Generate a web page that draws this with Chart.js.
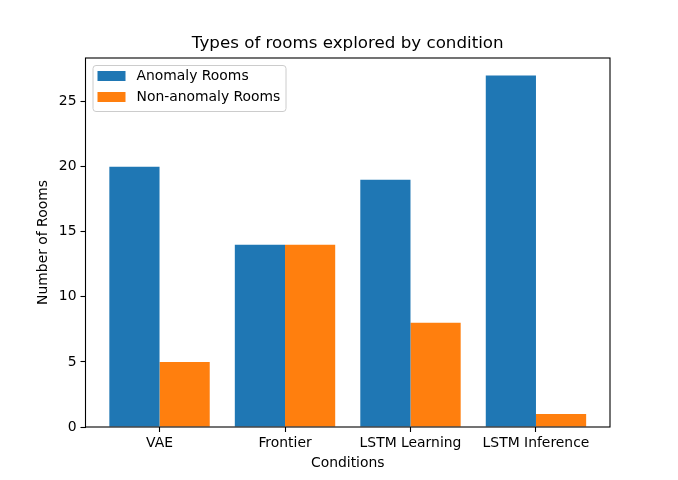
<!DOCTYPE html>
<html lang="en">
<head>
<meta charset="UTF-8">
<title>Types of rooms explored by condition</title>
<script src="https://cdn.jsdelivr.net/npm/chart.js"></script>
<style>
  html, body { margin: 0; padding: 0; background: #fff; }
  #wrap { width: 678px; height: 480px; }
</style>
</head>
<body>
<div id="wrap"><canvas id="roomsChart"></canvas></div>
<script>
    // Data
    const conditions = ["VAE", "Frontier", "LSTM Learning", "LSTM Inference"];
    const anomalyRooms = [20, 14, 19, 27];
    const nonAnomalyRooms = [5, 14, 8, 1];
    const yTicks = [0, 5, 10, 15, 20, 25];

    const FONT = "'DejaVu Sans', sans-serif";

    // matplotlib-like frame, title and legend
    const framePlugin = {
        id: "frame",
        afterDraw(chart) {
            const ctx = chart.ctx;
            const a = chart.chartArea;
            ctx.save();
            ctx.strokeStyle = "#000";
            ctx.lineWidth = 1.1;
            ctx.strokeRect(a.left, a.top, a.right - a.left, a.bottom - a.top);

            // title
            ctx.fillStyle = "#000";
            ctx.font = "16.7px " + FONT;
            ctx.textAlign = "center";
            ctx.textBaseline = "middle";
            ctx.fillText("Types of rooms explored by condition", (a.left + a.right) / 2, 43.5);

            // legend box
            const lx = a.left + 7, ly = a.top + 7, lw = 193, lh = 46;
            ctx.beginPath();
            ctx.roundRect(lx + 0.5, ly + 0.5, lw, lh, 3);
            ctx.fillStyle = "rgba(255,255,255,0.8)";
            ctx.fill();
            ctx.strokeStyle = "#cccccc";
            ctx.lineWidth = 1;
            ctx.stroke();

            ctx.font = "13.9px " + FONT;
            ctx.textAlign = "left";
            chart.data.datasets.forEach((ds, i) => {
                const ry = ly + 6 + i * 21;
                ctx.fillStyle = ds.backgroundColor;
                ctx.fillRect(lx + 5, ry, 28, 10);
                ctx.fillStyle = "#000";
                ctx.fillText(ds.label, lx + 44, ry + 5.5);
            });
            ctx.restore();
        }
    };

    new Chart(document.getElementById("roomsChart"), {
        type: "bar",
        data: {
            datasets: [
                {
                    label: "Anomaly Rooms",
                    data: anomalyRooms.map((v, i) => ({ x: i, y: v })),
                    backgroundColor: "#1f77b4",
                    borderWidth: 0,
                    inflateAmount: 0
                },
                {
                    label: "Non-anomaly Rooms",
                    data: nonAnomalyRooms.map((v, i) => ({ x: i, y: v })),
                    backgroundColor: "#ff7f0e",
                    borderWidth: 0,
                    inflateAmount: 0
                }
            ]
        },
        options: {
            responsive: true,
            maintainAspectRatio: false,
            animation: false,
            categoryPercentage: 0.8,
            barPercentage: 1.0,
            layout: { padding: { top: 58, right: 68, left: 0, bottom: 0 } },
            plugins: {
                legend: { display: false },
                tooltip: { enabled: false }
            },
            scales: {
                x: {
                    type: "linear",
                    offset: false,
                    min: -0.59,
                    max: 3.59,
                    afterBuildTicks: s => { s.ticks = conditions.map((c, i) => ({ value: i })); },
                    afterFit: s => { s.height = 53; },
                    grid: { offset: false, drawOnChartArea: false, tickLength: 5, color: "#000", tickWidth: 1.1 },
                    border: { display: false },
                    ticks: {
                        color: "#000",
                        font: { family: FONT, size: 13.9 },
                        padding: 3,
                        maxRotation: 0,
                        autoSkip: false,
                        callback: v => conditions[v]
                    },
                    title: {
                        display: true,
                        text: "Conditions",
                        color: "#000",
                        font: { family: FONT, size: 13.9 },
                        padding: { top: 0, bottom: 8 }
                    }
                },
                y: {
                    min: 0,
                    max: 28.35,
                    afterBuildTicks: s => { s.ticks = yTicks.map(v => ({ value: v })); },
                    afterFit: s => { s.width = 85.5; },
                    grid: { drawOnChartArea: false, tickLength: 5, color: "#000", tickWidth: 1.1 },
                    border: { display: false },
                    ticks: {
                        color: "#000",
                        font: { family: FONT, size: 13.9 },
                        padding: 4
                    },
                    title: {
                        display: true,
                        text: "Number of Rooms",
                        color: "#000",
                        font: { family: FONT, size: 13.9 },
                        padding: { top: 35, bottom: 0 }
                    }
                }
            }
        },
        plugins: [framePlugin]
    });
</script>
</body>
</html>
